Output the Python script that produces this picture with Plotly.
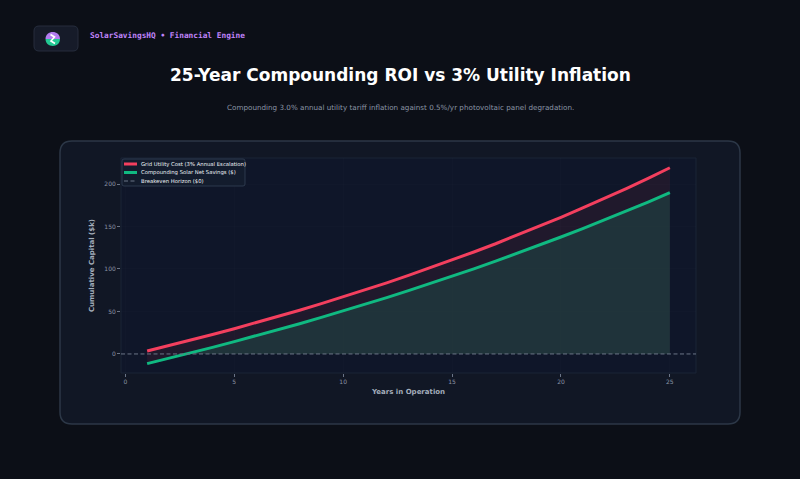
import numpy as np
import plotly.graph_objects as go

# ---------------- data ----------------
YEARS = list(range(1, 26))
GRID_COST = [3.5, 9.8, 16.2, 22.9, 29.7, 36.8, 44.0, 51.5, 59.2, 67.1,
             75.3, 83.7, 92.4, 101.3, 110.5, 120.0, 129.7, 139.8, 150.1, 160.8,
             171.8, 183.1, 194.7, 206.7, 219.1]
SOLAR_NET = [-11.4, -5.2, 1.2, 7.8, 14.5, 21.3, 28.4, 35.6, 43.0, 50.6,
             58.4, 66.3, 74.5, 82.9, 91.4, 100.2, 109.2, 118.5, 127.9, 137.6,
             147.5, 157.7, 168.2, 178.8, 189.8]
BREAKEVEN = 0
X_TICKS = [0, 5, 10, 15, 20, 25]
Y_TICKS = [0, 50, 100, 150, 200]

NAME_GRID = "Grid Utility Cost (3% Annual Escalation)"
NAME_SOLAR = "Compounding Solar Net Savings ($)"
NAME_BREAK = "Breakeven Horizon ($0)"
TITLE = "25-Year Compounding ROI vs 3% Utility Inflation"
SUBTITLE = "Compounding 3.0% annual utility tariff inflation against 0.5%/yr photovoltaic panel degradation."
BRAND = "SolarSavingsHQ \u2022 Financial Engine"

# ---------------- style ----------------
W, H = 800, 479
PL, PR, PT, PB = 121, 696, 158, 373   # plot area in pixels
PAGE_BG = "#0c0f17"
CARD_BG = "#111725"
CARD_BORDER = "#2c3747"
AX_BG = "#0f1629"
RED = "#f43f5e"
GREEN = "#10b981"
DASH = "#6b7587"
TICK = "#8b95a5"


def px(x):
    return (x - PL) / (PR - PL)


def py(y):
    return (PB - y) / (PB - PT)


def rrect(x0, y0, x1, y1, r):
    X0, X1 = px(x0), px(x1)
    Y0, Y1 = py(y0), py(y1)
    rx = r / (PR - PL)
    ry = r / (PB - PT)
    return (f"M {X0+rx},{Y0} L {X1-rx},{Y0} Q {X1},{Y0} {X1},{Y0-ry} "
            f"L {X1},{Y1+ry} Q {X1},{Y1} {X1-rx},{Y1} L {X0+rx},{Y1} "
            f"Q {X0},{Y1} {X0},{Y1+ry} L {X0},{Y0-ry} Q {X0},{Y0} {X0+rx},{Y0} Z")


yrs = np.array(YEARS, dtype=float)
sol = np.array(SOLAR_NET, dtype=float)
k = int(np.argmax(sol >= BREAKEVEN))
x_cross = yrs[k - 1] + (BREAKEVEN - sol[k - 1]) * (yrs[k] - yrs[k - 1]) / (sol[k] - sol[k - 1])
area_x = [x_cross] + list(yrs[k:])
area_y = [BREAKEVEN] + list(sol[k:])

fig = go.Figure()
fig.add_trace(go.Scatter(x=area_x, y=area_y, mode="lines", line=dict(width=0),
                         fill="tozeroy", fillcolor="rgba(38,62,64,0.75)",
                         showlegend=False, hoverinfo="skip"))
fig.add_trace(go.Scatter(x=YEARS, y=SOLAR_NET, mode="lines", name=NAME_SOLAR,
                         line=dict(color=GREEN, width=3), showlegend=False))
fig.add_trace(go.Scatter(x=YEARS, y=GRID_COST, mode="lines", name=NAME_GRID,
                         line=dict(color=RED, width=3), fill="tonexty",
                         fillcolor="rgba(244,63,94,0.08)", showlegend=False))

shapes = [
    # card
    dict(type="path", path=rrect(60, 141, 740, 424, 12), xref="paper", yref="paper",
         fillcolor=CARD_BG, line=dict(color=CARD_BORDER, width=1.5), layer="below"),
    # axes face
    dict(type="rect", x0=0, x1=1, y0=0, y1=1, xref="paper", yref="paper",
         fillcolor=AX_BG, line=dict(color="#1b2436", width=1), layer="below"),
    # logo box
    dict(type="path", path=rrect(34, 26, 78, 51, 5), xref="paper", yref="paper",
         fillcolor="#161b29", line=dict(color="#262d3d", width=1)),
    # logo half discs
    dict(type="path", xref="paper", yref="paper", line=dict(width=0), fillcolor="#b27cf0",
         path=f"M {px(45.5)},{py(39)} C {px(45.5)},{py(29.8)} {px(60)},{py(29.8)} {px(60)},{py(39)} Z"),
    dict(type="path", xref="paper", yref="paper", line=dict(width=0), fillcolor="#22c993",
         path=f"M {px(45.5)},{py(39)} C {px(45.5)},{py(48.2)} {px(60)},{py(48.2)} {px(60)},{py(39)} Z"),
    dict(type="path", xref="paper", yref="paper", line=dict(color="white", width=1.6),
         path=f"M {px(50.5)},{py(34.5)} L {px(54.5)},{py(37)} L {px(51)},{py(41)} L {px(55)},{py(43.5)}"),
    # breakeven line
    dict(type="line", xref="x domain", yref="y", x0=0, x1=1, y0=BREAKEVEN, y1=BREAKEVEN,
         line=dict(color=DASH, width=1, dash="4px,2.5px"), layer="above"),
    # legend box
    dict(type="path", path=rrect(122, 159, 245, 186, 2), xref="paper", yref="paper",
         fillcolor="rgba(20,29,46,0.92)", line=dict(color="#334155", width=0.8)),
    dict(type="line", xref="paper", yref="paper", x0=px(124), x1=px(137), y0=py(164), y1=py(164),
         line=dict(color=RED, width=3)),
    dict(type="line", xref="paper", yref="paper", x0=px(124), x1=px(137), y0=py(172.5), y1=py(172.5),
         line=dict(color=GREEN, width=3)),
    dict(type="line", xref="paper", yref="paper", x0=px(124), x1=px(137), y0=py(181), y1=py(181),
         line=dict(color=DASH, width=1, dash="4px,2.5px")),
]

annotations = [
    dict(text=BRAND, x=px(88), y=py(36), xref="paper", yref="paper", xanchor="left",
         yanchor="middle", showarrow=False,
         font=dict(family="DejaVu Sans Mono", size=7.8, color="#c084fc", weight="bold")),
    dict(text=f"<b>{TITLE}</b>", x=px(400), y=py(75), xref="paper", yref="paper",
         xanchor="center", yanchor="middle", showarrow=False,
         font=dict(family="DejaVu Sans", size=17, color="#ffffff")),
    dict(text=SUBTITLE, x=px(400), y=py(107.5), xref="paper", yref="paper",
         xanchor="center", yanchor="middle", showarrow=False,
         font=dict(family="DejaVu Sans", size=7.2, color="#8b95a5")),
]
for label, yy in [(NAME_GRID, 164), (NAME_SOLAR, 172.5), (NAME_BREAK, 181)]:
    annotations.append(dict(text=label, x=px(139), y=py(yy), xref="paper", yref="paper",
                            xanchor="left", yanchor="middle", showarrow=False,
                            font=dict(family="DejaVu Sans", size=5.3, color="#eef2f7")))

fig.update_layout(
    width=W, height=H,
    margin=dict(l=PL, r=W - PR, t=PT, b=H - PB, pad=0),
    paper_bgcolor=PAGE_BG,
    plot_bgcolor="rgba(0,0,0,0)",
    font=dict(family="DejaVu Sans", color=TICK),
    shapes=shapes,
    annotations=annotations,
    showlegend=False,
    xaxis=dict(range=[-0.2, 26.2], tickvals=X_TICKS, showgrid=True,
               gridcolor="rgba(255,255,255,0.012)", zeroline=False, showline=False,
               ticks="outside", ticklen=3, tickcolor="#6b7587",
               tickfont=dict(size=6, color=TICK),
               title=dict(text="<b>Years in Operation</b>", font=dict(size=7, color="#a3adbb"), standoff=4)),
    yaxis=dict(range=[-22.4, 230.6], tickvals=Y_TICKS, showgrid=True,
               gridcolor="rgba(255,255,255,0.012)", zeroline=False, showline=False,
               ticks="outside", ticklen=3, tickcolor="#6b7587",
               tickfont=dict(size=6, color=TICK),
               title=dict(text="<b>Cumulative Capital ($k)</b>", font=dict(size=7, color="#a3adbb"), standoff=8)),
)

fig.write_html("out.html", config={"displayModeBar": False},
               post_script="document.body.style.margin='0';document.body.style.background='#0c0f17';")
